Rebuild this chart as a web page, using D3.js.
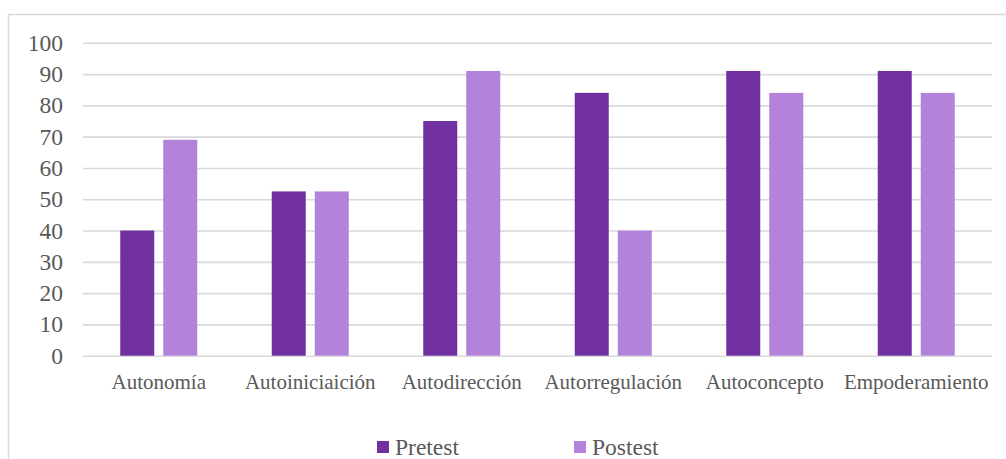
<!DOCTYPE html>
<html>
<head>
<meta charset="utf-8">
<script src="https://cdn.jsdelivr.net/npm/d3@7"></script>
<style>
  html, body { margin: 0; padding: 0; background: #fff; }
  svg { display: block; }
</style>
</head>
<body>
<svg id="chart" width="1006" height="459"></svg>
<script>
// Dimensiones evaluadas
const categories = ["Autonomía", "Autoiniciaición", "Autodirección", "Autorregulación", "Autoconcepto", "Empoderamiento"];
const seriesNames = ["Pretest", "Postest"];
const pretest = [40, 52.5, 75, 84, 91, 91];
const postest = [69, 52.5, 91, 40, 84, 84];
const yTicks = [0, 10, 20, 30, 40, 50, 60, 70, 80, 90, 100];
const colors = ["#7030A0", "#B383DB"];

const FONT = "'Liberation Serif', 'Times New Roman', 'DejaVu Serif', serif";
const svg = d3.select("#chart");

// Marco del gráfico
svg.append("rect")
  .attr("x", 8.5).attr("y", 14.5)
  .attr("width", 1010).attr("height", 460)
  .attr("fill", "#fff").attr("stroke", "#d9d9d9").attr("stroke-width", 1.5);

const plot = { left: 83, right: 992, top: 42.8, bottom: 355.7 };

const y = d3.scaleLinear().domain([0, 100]).range([plot.bottom, plot.top]);
const x0 = d3.scaleBand().domain(categories).range([plot.left, plot.right]).padding(0);
const x1 = d3.scaleBand().domain(seriesNames).range([0, x0.bandwidth()])
  .paddingInner(0.2093).paddingOuter(0.866);

// Líneas de cuadrícula
const yAxis = d3.axisLeft(y).tickValues(yTicks).tickSize(-(plot.right - plot.left)).tickPadding(20).tickFormat(d3.format("d"));
const gy = svg.append("g").attr("transform", `translate(${plot.left},0)`).call(yAxis)
  .attr("font-family", null).attr("font-size", null);
gy.select(".domain").remove();
gy.selectAll(".tick line").attr("stroke", "#d9d9d9").attr("stroke-width", 1.6);
gy.selectAll(".tick text").style("font-family", FONT).style("font-size", "23.5px").attr("fill", "#595959");

// Barras
const rows = categories.map((c, i) => ({ cat: c, vals: [pretest[i], postest[i]] }));
const groups = svg.append("g").selectAll("g").data(rows).join("g")
  .attr("transform", d => `translate(${x0(d.cat)},0)`);
groups.selectAll("rect")
  .data(d => d.vals.map((v, k) => ({ key: seriesNames[k], v, k })))
  .join("rect")
  .attr("x", d => x1(d.key))
  .attr("width", x1.bandwidth())
  .attr("y", d => y(d.v))
  .attr("height", d => y(0) - y(d.v))
  .attr("fill", d => colors[d.k]);

// Eje de categorías
const xAxis = d3.axisBottom(x0).tickSize(0).tickPadding(18);
const gx = svg.append("g").attr("transform", `translate(0,${plot.bottom})`).call(xAxis)
  .attr("font-family", null).attr("font-size", null);
gx.select(".domain").remove();
gx.selectAll(".tick text").style("font-family", FONT).style("font-size", "21px").attr("fill", "#595959");

// Leyenda
const legendX = [377, 574];
const legend = svg.append("g").selectAll("g").data(seriesNames).join("g")
  .attr("transform", (d, i) => `translate(${legendX[i]},441)`);
legend.append("rect").attr("width", 12).attr("height", 12).attr("fill", (d, i) => colors[i]);
legend.append("text").attr("x", 18).attr("y", 14)
  .style("font-family", FONT).style("font-size", "23.5px").attr("fill", "#595959").text(d => d);
</script>
</body>
</html>
